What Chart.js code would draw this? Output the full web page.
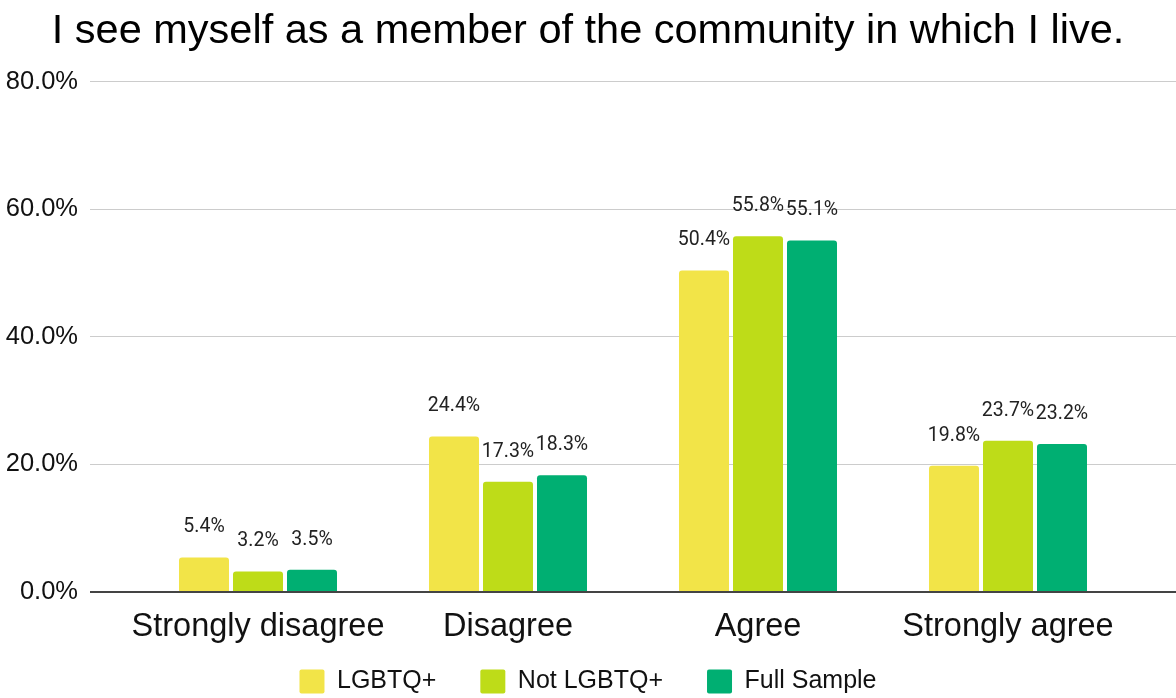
<!DOCTYPE html>
<html>
<head>
<meta charset="utf-8">
<script src="https://cdn.jsdelivr.net/npm/chart.js@4"></script>
<style>
  body { margin: 0; background: #fff; }
  #wrap { width: 1176px; height: 698px; }
</style>
</head>
<body>
<div id="wrap"><canvas id="communityChart" width="1176" height="698"></canvas></div>
<script>
const categories = ['Strongly disagree', 'Disagree', 'Agree', 'Strongly agree'];
const seriesNames = ['LGBTQ+', 'Not LGBTQ+', 'Full Sample'];
const lgbtqValues = [5.4, 24.4, 50.4, 19.8];
const notLgbtqValues = [3.2, 17.3, 55.8, 23.7];
const fullSampleValues = [3.5, 18.3, 55.1, 23.2];
const yTicks = [0, 20, 40, 60, 80];

const colors = ['#F2E448', '#BEDC18', '#00AF72'];
const font = 'Liberation Sans, Arial, sans-serif';

// value labels above each bar (sheets style)
const barLabels = {
    id: 'barLabels',
    afterDatasetsDraw(chart) {
        const ctx = chart.ctx;
        ctx.save();
        ctx.font = '19.5px Roboto, sans-serif';
        ctx.fillStyle = '#222';
        ctx.textAlign = 'center';
        ctx.textBaseline = 'middle';
        chart.data.datasets.forEach((ds, i) => {
            chart.getDatasetMeta(i).data.forEach((bar, j) => {
                ctx.fillText(ds.data[j].toFixed(1) + '%', bar.x, bar.y - 30);
            });
        });
        ctx.restore();
    }
};

// x labels hang into the legend strip, so don't let the axis box clip them
const xLabelRoom = {
    id: 'xLabelRoom',
    afterLayout(chart) {
        chart.scales.x.bottom = chart.height;
    }
};

const gridColor = (c) => c.tick && c.tick.value === 0 ? '#444' : '#ccc';
const gridWidth = (c) => c.tick && c.tick.value === 0 ? 2 : 1;

new Chart(document.getElementById('communityChart').getContext('2d'), {
    type: 'bar',
    data: {
        labels: categories,
        datasets: [
            { label: seriesNames[0], data: lgbtqValues, backgroundColor: colors[0] },
            { label: seriesNames[1], data: notLgbtqValues, backgroundColor: colors[1] },
            { label: seriesNames[2], data: fullSampleValues, backgroundColor: colors[2] }
        ]
    },
    options: {
        responsive: false,
        animation: false,
        layout: { padding: { left: 0, right: 0, top: 0, bottom: -6 } },
        datasets: {
            bar: { categoryPercentage: 0.648, barPercentage: 0.926, borderRadius: 3 }
        },
        scales: {
            x: {
                grid: { display: false, drawTicks: false },
                border: { display: false },
                ticks: {
                    color: '#111',
                    padding: 16,
                    maxRotation: 0,
                    autoSkip: false,
                    font: { family: font, size: 32.5 }
                },
                afterFit: (s) => { s.height = 33; }
            },
            y: {
                min: 0,
                max: 80,
                afterBuildTicks: (s) => { s.ticks = yTicks.map(v => ({ value: v })); },
                border: { display: false },
                grid: { color: gridColor, lineWidth: gridWidth, tickLength: 43 },
                ticks: {
                    color: '#111',
                    padding: 12,
                    font: { family: font, size: 25.5 },
                    callback: (v) => v.toFixed(1) + '%'
                },
                afterFit: (s) => { s.width = 133; }
            },
            y2: {
                position: 'right',
                min: 0,
                max: 80,
                afterBuildTicks: (s) => { s.ticks = yTicks.map(v => ({ value: v })); },
                border: { display: false },
                grid: { color: gridColor, lineWidth: gridWidth, tickLength: 43, drawOnChartArea: false },
                ticks: { display: false },
                afterFit: (s) => { s.width = 43; }
            }
        },
        plugins: {
            title: {
                display: true,
                text: 'I see myself as a member of the community in which I live.',
                color: '#000',
                font: { family: font, size: 41.5, weight: 'normal' },
                padding: { top: 7, bottom: 25 }
            },
            legend: {
                position: 'bottom',
                labels: {
                    color: '#111',
                    boxWidth: 25,
                    boxHeight: 24,
                    useBorderRadius: true,
                    borderRadius: 2,
                    padding: 44,
                    font: { family: font, size: 25 }
                }
            },
            tooltip: { enabled: false }
        }
    },
    plugins: [barLabels, xLabelRoom]
});
</script>
</body>
</html>
